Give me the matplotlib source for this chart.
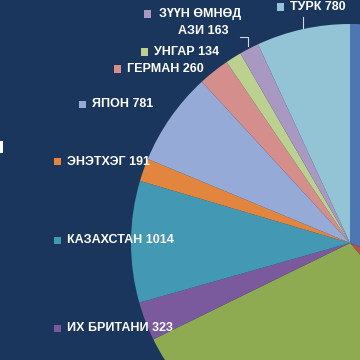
import matplotlib
matplotlib.use("Agg")
from matplotlib import pyplot as plt
from matplotlib import patches as patches

# slices clockwise from 12 o'clock (first three are only partly visible, values estimated)
countries = ["", "", "", "ИХ БРИТАНИ", "КАЗАХСТАН", "ЭНЭТХЭГ", "ЯПОН",
             "ГЕРМАН", "УНГАР", "ЗҮҮН ӨМНӨД\nАЗИ", "ТУРК"]
values = [3500, 880, 3280, 323, 1014, 191, 781, 260, 134, 163, 780]
colors = ["#4e76b0", "#b8504c", "#8eab52", "#7a5a9c", "#4399b4", "#e2853e",
          "#95aad6", "#d48f8d", "#bcd190", "#a999c2", "#92c4d6"]

bg = "#1a365d"

fig = plt.figure(figsize=(3.6, 3.6), dpi=100, facecolor=bg)
ax = fig.add_axes([0, 0, 1, 1])
ax.set_facecolor(bg)
ax.pie(values, colors=colors, startangle=90, counterclock=False, radius=1,
       wedgeprops=dict(linewidth=0))
ax.set_aspect("auto")
R = 219.0
cx, cy = 350.0, 243.0
ax.set_xlim(-cx / R, (360 - cx) / R)
ax.set_ylim((cy - 360) / R, cy / R)
ax.axis("off")

# label layout in pixels: (marker x, text y) for each visible slice
label_pos = {
    "ТУРК": (280, 7),
    "ЗҮҮН ӨМНӨД\nАЗИ": (147, 14),
    "УНГАР": (144, 52),
    "ГЕРМАН": (117, 69),
    "ЯПОН": (82, 104),
    "ЭНЭТХЭГ": (57, 162),
    "КАЗАХСТАН": (57, 240),
    "ИХ БРИТАНИ": (57, 328),
}

def px(x, y):
    return x / 360.0, 1 - y / 360.0

font = dict(family=["Liberation Sans", "DejaVu Sans"], weight="bold", size=9, color="white")
for name, val, col in zip(countries, values, colors):
    if name not in label_pos:
        continue
    mx, my = label_pos[name]
    x0, y0 = px(mx - 3.5, my + 3.5)
    ax.add_patch(patches.Rectangle((x0, y0), 7 / 360, 7 / 360, transform=ax.transAxes,
                                   facecolor=col, edgecolor="none", zorder=5))
    if "\n" in name:
        first, second = name.split("\n")
        tx, ty = px(mx + 12, my)
        ax.text(tx, ty, first, transform=ax.transAxes, ha="left", va="center", zorder=6, **font)
        tx, ty = px(203, my + 17)
        ax.text(tx, ty, f"{second} {val}", transform=ax.transAxes, ha="center", va="center",
                zorder=6, **font)
    else:
        tx, ty = px(mx + 10, my)
        ax.text(tx, ty, f"{name} {val}", transform=ax.transAxes, ha="left", va="center",
                zorder=6, **font)

# leader lines
lc = "#d0d8e4"
ax.plot(*zip(px(303, 17), px(303, 28)), transform=ax.transAxes, color=lc, lw=0.8, zorder=4)
ax.plot(*zip(px(240, 37), px(248, 37), px(248, 46)), transform=ax.transAxes, color=lc, lw=0.8, zorder=4)

# cut-off fragment of a label at the left edge
ax.add_patch(patches.Rectangle(px(0, 153), 2.5 / 360, 12 / 360, transform=ax.transAxes,
                               facecolor="white", edgecolor="none", zorder=6))

plt.savefig("out.png", dpi=100, facecolor=bg)
